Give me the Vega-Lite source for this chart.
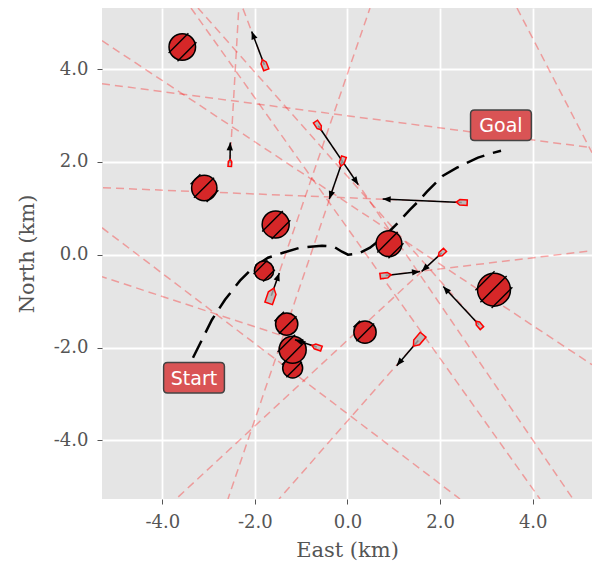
{
  "$schema": "https://vega.github.io/schema/vega-lite/v6.json",
  "width": 490,
  "height": 491,
  "autosize": "none",
  "padding": {"left": 102, "top": 8, "right": 0, "bottom": 67},
  "background": "white",
  "config": {
    "view": {"fill": "#e5e5e5", "stroke": null},
    "axis": {
      "grid": true, "gridColor": "white", "gridWidth": 1.8, "domain": false,
      "tickColor": "#555555", "tickSize": 5, "tickWidth": 1,
      "labelFont": "DejaVu Serif", "labelFontSize": 18, "labelColor": "#555555",
      "titleFont": "DejaVu Serif", "titleFontSize": 21, "titleColor": "#555555", "titleFontWeight": "normal"
    }
  },
  "datasets": {
    "lines": [
      {"x": -1.797, "y": 4.095, "x2": -2.263, "y2": 5.317},
      {"x": -2.538, "y": 1.978, "x2": -2.348, "y2": 5.317},
      {"x": -0.631, "y": 2.780, "x2": 4.870, "y2": -5.265},
      {"x": -0.112, "y": 2.011, "x2": -2.581, "y2": -5.265},
      {"x": 2.467, "y": 1.127, "x2": -5.302, "y2": 1.444},
      {"x": -1.646, "y": -0.884, "x2": 0.486, "y2": 5.317},
      {"x": -0.665, "y": -1.989, "x2": -5.302, "y2": -0.474},
      {"x": 0.825, "y": -0.446, "x2": 5.281, "y2": 0.086},
      {"x": 2.035, "y": 0.037, "x2": -3.704, "y2": -5.265},
      {"x": 2.840, "y": -1.509, "x2": -3.229, "y2": 5.317},
      {"x": 1.529, "y": -1.847, "x2": -1.479, "y2": -5.265},
      {"x": -5.302, "y": 4.612, "x2": 5.281, "y2": -2.371},
      {"x": -5.302, "y": 0.582, "x2": 2.430, "y2": -5.265},
      {"x": -5.302, "y": 3.685, "x2": 5.281, "y2": 2.306},
      {"x": -3.380, "y": 5.317, "x2": 4.158, "y2": -5.265},
      {"x": 3.661, "y": 5.317, "x2": 5.281, "y2": 2.198}
    ],
    "path": [
      {"i": 0, "x": -3.337, "y": -2.220},
      {"i": 1, "x": -3.121, "y": -1.789},
      {"i": 2, "x": -2.927, "y": -1.401},
      {"i": 3, "x": -2.646, "y": -0.970},
      {"i": 4, "x": -2.322, "y": -0.560},
      {"i": 5, "x": -2.041, "y": -0.280},
      {"i": 6, "x": -1.717, "y": -0.065},
      {"i": 7, "x": -1.393, "y": 0.043},
      {"i": 8, "x": -1.026, "y": 0.151},
      {"i": 9, "x": -0.551, "y": 0.194},
      {"i": 10, "x": -0.292, "y": 0.172},
      {"i": 11, "x": -0.119, "y": 0.065},
      {"i": 12, "x": 0.011, "y": 0.0},
      {"i": 13, "x": 0.227, "y": 0.022},
      {"i": 14, "x": 0.486, "y": 0.151},
      {"i": 15, "x": 0.767, "y": 0.366},
      {"i": 16, "x": 1.091, "y": 0.690},
      {"i": 17, "x": 1.350, "y": 0.970},
      {"i": 18, "x": 1.501, "y": 1.121},
      {"i": 19, "x": 1.717, "y": 1.358},
      {"i": 20, "x": 2.063, "y": 1.703},
      {"i": 21, "x": 2.365, "y": 1.875},
      {"i": 22, "x": 2.819, "y": 2.091},
      {"i": 23, "x": 3.078, "y": 2.177},
      {"i": 24, "x": 3.316, "y": 2.241}
    ],
    "obstacles": [
      {"id": "A", "x": -3.568, "y": 4.476, "r": 0.323},
      {"id": "B", "x": -3.093, "y": 1.438, "r": 0.308},
      {"id": "C", "x": -1.551, "y": 0.653, "r": 0.329},
      {"id": "D", "x": 0.896, "y": 0.237, "r": 0.314},
      {"id": "E", "x": -1.803, "y": -0.345, "r": 0.236},
      {"id": "F", "x": 3.164, "y": -0.754, "r": 0.401},
      {"id": "G", "x": -1.313, "y": -1.494, "r": 0.271},
      {"id": "H", "x": 0.378, "y": -1.670, "r": 0.271},
      {"id": "J", "x": -1.184, "y": -2.442, "r": 0.243},
      {"id": "I", "x": -1.184, "y": -2.047, "r": 0.329}
    ],
    "hatch": [
      {"id": "A", "x": -3.437, "y": 4.771, "x2": -3.863, "y2": 4.346},
      {"id": "A", "x": -3.262, "y": 4.579, "x2": -3.671, "y2": 4.171},
      {"id": "B", "x": -3.177, "y": 1.733, "x2": -3.389, "y2": 1.521},
      {"id": "B", "x": -2.882, "y": 1.661, "x2": -3.317, "y2": 1.227},
      {"id": "B", "x": -2.789, "y": 1.387, "x2": -3.042, "y2": 1.134},
      {"id": "C", "x": -1.397, "y": 0.944, "x2": -1.842, "y2": 0.500},
      {"id": "C", "x": -1.233, "y": 0.741, "x2": -1.639, "y2": 0.336},
      {"id": "D", "x": 1.084, "y": 0.489, "x2": 0.644, "y2": 0.050},
      {"id": "D", "x": 1.210, "y": 0.249, "x2": 0.885, "y2": -0.076},
      {"id": "E", "x": -1.730, "y": -0.120, "x2": -2.028, "y2": -0.418},
      {"id": "E", "x": -1.568, "y": -0.325, "x2": -1.823, "y2": -0.580},
      {"id": "F", "x": 3.176, "y": -0.355, "x2": 2.764, "y2": -0.766},
      {"id": "F", "x": 3.437, "y": -0.461, "x2": 2.870, "y2": -1.026},
      {"id": "F", "x": 3.561, "y": -0.703, "x2": 3.113, "y2": -1.151},
      {"id": "G", "x": -1.373, "y": -1.230, "x2": -1.578, "y2": -1.434},
      {"id": "G", "x": -1.101, "y": -1.325, "x2": -1.482, "y2": -1.705},
      {"id": "H", "x": 0.270, "y": -1.422, "x2": 0.129, "y2": -1.563},
      {"id": "H", "x": 0.575, "y": -1.484, "x2": 0.192, "y2": -1.867},
      {"id": "J", "x": -1.253, "y": -2.209, "x2": -1.416, "y2": -2.372},
      {"id": "J", "x": -0.983, "y": -2.306, "x2": -1.320, "y2": -2.642},
      {"id": "I", "x": -1.132, "y": -1.723, "x2": -1.509, "y2": -2.098},
      {"id": "I", "x": -0.909, "y": -1.866, "x2": -1.365, "y2": -2.322}
    ],
    "ships": [
      {"x": -1.797, "y": 4.095, "x2": -2.069, "y2": 4.812, "hdg": 339, "len": 110},
      {"x": -2.538, "y": 1.978, "x2": -2.531, "y2": 2.420, "hdg": 4, "len": 70},
      {"x": -0.631, "y": 2.780, "x2": 0.233, "y2": 1.509, "hdg": 146, "len": 100},
      {"x": -0.112, "y": 2.011, "x2": -0.393, "y2": 1.200, "hdg": 199, "len": 100},
      {"x": 2.467, "y": 1.127, "x2": 0.760, "y2": 1.200, "hdg": 272.5, "len": 110},
      {"x": -1.646, "y": -0.884, "x2": -1.473, "y2": -0.394, "hdg": 19, "len": 160},
      {"x": -0.665, "y": -1.989, "x2": -1.134, "y2": -1.832, "hdg": 289, "len": 100},
      {"x": 0.825, "y": -0.446, "x2": 1.566, "y2": -0.360, "hdg": 83, "len": 110},
      {"x": 2.035, "y": 0.037, "x2": 1.603, "y2": -0.360, "hdg": 227, "len": 90},
      {"x": 2.840, "y": -1.509, "x2": 2.069, "y2": -0.683, "hdg": 319, "len": 90},
      {"x": 1.529, "y": -1.847, "x2": 1.063, "y2": -2.392, "hdg": 220, "len": 150}
    ],
    "labels": [
      {"x": -3.315, "y": -2.651, "text": "Start"},
      {"x": 3.315, "y": 2.791, "text": "Goal"}
    ]
  },
  "resolve": {"scale": {"size": "independent"}},
  "layer": [
    {
      "data": {"name": "lines"},
      "mark": {"type": "rule", "clip": true, "color": "#ff0000", "opacity": 0.32, "strokeWidth": 1.5, "strokeDash": [8, 5]},
      "encoding": {
        "x": {"field": "x", "type": "quantitative", "scale": {"domain": [-5.302, 5.281], "nice": false, "zero": false}, "axis": {"title": "East (km)", "values": [-4, -2, 0, 2, 4], "labelExpr": "(datum.value < 0 ? '-' : '') + format(abs(datum.value), '.1f')", "labelPadding": 9, "titlePadding": 8}},
        "y": {"field": "y", "type": "quantitative", "scale": {"domain": [-5.265, 5.317], "nice": false, "zero": false}, "axis": {"title": "North (km)", "values": [-4, -2, 0, 2, 4], "labelExpr": "(datum.value < 0 ? '-' : '') + format(abs(datum.value), '.1f')", "labelPadding": 9, "titlePadding": 16}},
        "x2": {"field": "x2"},
        "y2": {"field": "y2"}
      }
    },
    {
      "data": {"name": "path"},
      "mark": {"type": "line", "clip": true, "color": "black", "strokeWidth": 2.5, "strokeDash": [19, 9]},
      "encoding": {
        "x": {"field": "x", "type": "quantitative"},
        "y": {"field": "y", "type": "quantitative"},
        "order": {"field": "i", "type": "quantitative"}
      }
    },
    {
      "data": {"name": "obstacles"},
      "transform": [{"filter": "datum.id != 'I'"}],
      "mark": {"type": "point", "shape": "circle", "filled": true, "fill": "#d62728", "fillOpacity": 1, "stroke": "black", "strokeWidth": 1.5, "opacity": 1},
      "encoding": {
        "x": {"field": "x", "type": "quantitative"},
        "y": {"field": "y", "type": "quantitative"},
        "size": {"field": "r", "type": "quantitative", "scale": {"type": "pow", "exponent": 2, "domain": [0, 1], "range": [0, 6749]}, "legend": null}
      }
    },
    {
      "data": {"name": "hatch"},
      "transform": [{"filter": "datum.id != 'I'"}],
      "mark": {"type": "rule", "color": "black", "strokeWidth": 1.4},
      "encoding": {
        "x": {"field": "x", "type": "quantitative"},
        "y": {"field": "y", "type": "quantitative"},
        "x2": {"field": "x2"},
        "y2": {"field": "y2"}
      }
    },
    {
      "data": {"name": "obstacles"},
      "transform": [{"filter": "datum.id == 'I'"}],
      "mark": {"type": "point", "shape": "circle", "filled": true, "fill": "#d62728", "fillOpacity": 1, "stroke": "black", "strokeWidth": 1.5, "opacity": 1},
      "encoding": {
        "x": {"field": "x", "type": "quantitative"},
        "y": {"field": "y", "type": "quantitative"},
        "size": {"field": "r", "type": "quantitative", "scale": {"type": "pow", "exponent": 2, "domain": [0, 1], "range": [0, 6749]}, "legend": null}
      }
    },
    {
      "data": {"name": "hatch"},
      "transform": [{"filter": "datum.id == 'I'"}],
      "mark": {"type": "rule", "color": "black", "strokeWidth": 1.4},
      "encoding": {
        "x": {"field": "x", "type": "quantitative"},
        "y": {"field": "y", "type": "quantitative"},
        "x2": {"field": "x2"},
        "y2": {"field": "y2"}
      }
    },
    {
      "data": {"name": "ships"},
      "mark": {"type": "rule", "color": "black", "strokeWidth": 1.5},
      "encoding": {
        "x": {"field": "x", "type": "quantitative"},
        "y": {"field": "y", "type": "quantitative"},
        "x2": {"field": "x2"},
        "y2": {"field": "y2"}
      }
    },
    {
      "data": {"name": "ships"},
      "mark": {"type": "point", "shape": "M0,0 L0.4,1 L-0.4,1 Z", "filled": true, "fill": "black", "stroke": null, "opacity": 1, "size": 256},
      "encoding": {
        "x": {"field": "x2", "type": "quantitative"},
        "y": {"field": "y2", "type": "quantitative"},
        "angle": {"field": "hdg", "type": "quantitative", "scale": {"domain": [0, 360], "range": [0, 360]}}
      }
    },
    {
      "data": {"name": "ships"},
      "mark": {"type": "point", "shape": "M0,-1 L0.5,-0.35 L0.5,1 L-0.5,1 L-0.5,-0.35 Z", "filled": false, "fill": "#b0b0b0", "fillOpacity": 0.8, "stroke": "#ff0000", "strokeWidth": 1.5, "opacity": 1},
      "encoding": {
        "x": {"field": "x", "type": "quantitative"},
        "y": {"field": "y", "type": "quantitative"},
        "angle": {"field": "hdg", "type": "quantitative", "scale": {"domain": [0, 360], "range": [0, 360]}},
        "size": {"field": "len", "type": "quantitative", "scale": {"type": "pow", "exponent": 2, "domain": [0, 100], "range": [0, 100]}, "legend": null}
      }
    },
    {
      "data": {"name": "labels"},
      "mark": {"type": "point", "shape": "M-0.87,-0.5 L0.87,-0.5 Q1,-0.5 1,-0.37 L1,0.37 Q1,0.5 0.87,0.5 L-0.87,0.5 Q-1,0.5 -1,0.37 L-1,-0.37 Q-1,-0.5 -0.87,-0.5 Z", "filled": true, "fill": "#d95455", "stroke": "#444444", "strokeWidth": 1.5, "opacity": 1, "size": 3700},
      "encoding": {
        "x": {"field": "x", "type": "quantitative"},
        "y": {"field": "y", "type": "quantitative"}
      }
    },
    {
      "data": {"name": "labels"},
      "mark": {"type": "text", "font": "DejaVu Sans", "fontSize": 19, "color": "white", "align": "center", "baseline": "middle", "dy": 1},
      "encoding": {
        "x": {"field": "x", "type": "quantitative"},
        "y": {"field": "y", "type": "quantitative"},
        "text": {"field": "text"}
      }
    }
  ]
}
